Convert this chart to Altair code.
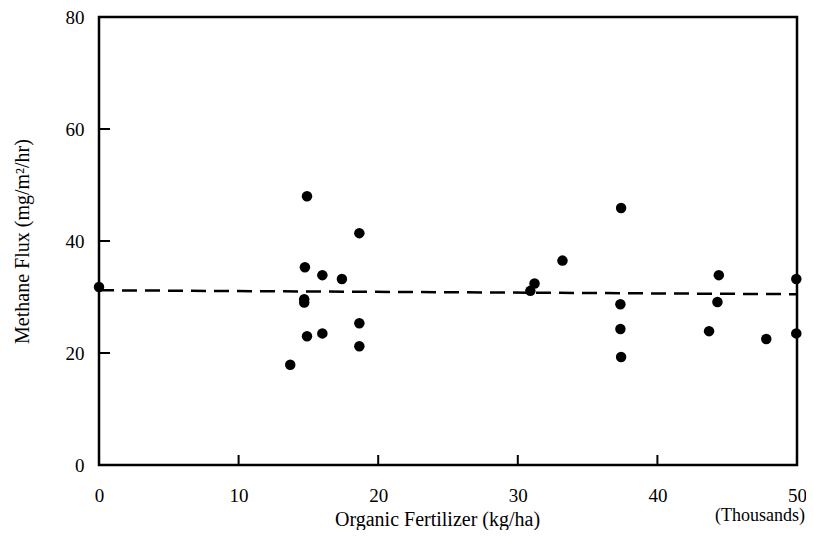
import altair as alt
import pandas as pd

# Scatter data (fertilizer in thousands kg/ha, methane flux mg/m2/hr)
fert = [0.0, 14.9, 18.65, 14.75, 16.0, 17.4, 14.7, 14.7, 18.65, 14.9, 16.0, 18.65, 13.7,
        31.2, 30.9, 33.2, 37.4, 37.35, 37.35, 37.4, 44.4, 44.3, 43.7, 47.8, 49.95, 49.95]
flux = [31.8, 48.0, 41.4, 35.3, 33.9, 33.2, 29.6, 29.0, 25.3, 23.0, 23.5, 21.2, 17.9,
        32.4, 31.1, 36.5, 45.9, 28.7, 24.3, 19.3, 33.9, 29.1, 23.9, 22.5, 33.2, 23.5]

# Fitted (dashed) line end points
line_x = [0, 50]
line_y = [31.2, 30.5]

x_ticks = [10, 20, 30, 40]
y_ticks = [20, 40, 60]

W, H = 698, 448
FONT = "Liberation Serif"

pts = pd.DataFrame({"fert": fert, "flux": flux})
ln = pd.DataFrame({"fert": line_x, "flux": line_y})
xt = pd.DataFrame({"tx": x_ticks})
yt = pd.DataFrame({"ty": y_ticks})
note = pd.DataFrame({"fert": [50], "label": ["(Thousands)"]})

xscale = alt.Scale(domain=[0, 50], nice=False, zero=False)
yscale = alt.Scale(domain=[0, 80], nice=False, zero=False)

xaxis = alt.Axis(values=[0, 10, 20, 30, 40, 50], format="d", ticks=False, tickSize=0,
                 domain=False, grid=False, labelPadding=21, labelFontSize=19,
                 labelFlush=False, labelOverlap=False,
                 labelFont=FONT, labelColor="black", title="Organic Fertilizer (kg/ha)",
                 titleFont=FONT, titleFontSize=20, titleFontWeight="normal",
                 titleColor="black", titleX=338, titleY=60, titleBaseline="alphabetic")
yaxis = alt.Axis(values=[0, 20, 40, 60, 80], format="d", ticks=False, tickSize=0,
                 domain=False, grid=False, labelPadding=15, labelFontSize=19,
                 labelFlush=False, labelOverlap=False,
                 labelFont=FONT, labelColor="black", title="Methane Flux (mg/m²/hr)",
                 titleFont=FONT, titleFontSize=20, titleFontWeight="normal",
                 titleColor="black", titlePadding=33)

points = alt.Chart(pts).mark_point(size=110, color="black", filled=True, opacity=1).encode(
    x=alt.X("fert:Q", scale=xscale, axis=xaxis),
    y=alt.Y("flux:Q", scale=yscale, axis=yaxis),
)

dashed = alt.Chart(ln).mark_line(color="black", strokeWidth=2.5, strokeDash=[15, 8]).encode(
    x=alt.X("fert:Q", scale=xscale),
    y=alt.Y("flux:Q", scale=yscale),
)

xtick = alt.Chart(xt).mark_rule(stroke="black", strokeWidth=2, opacity=1).encode(
    x=alt.X("tx:Q", scale=xscale),
    y=alt.value(H),
    y2=alt.value(H - 10),
)

ytick = alt.Chart(yt).mark_rule(stroke="black", strokeWidth=2, opacity=1).encode(
    y=alt.Y("ty:Q", scale=yscale),
    x=alt.value(0),
    x2=alt.value(11),
)

thous = alt.Chart(note).mark_text(font=FONT, fontSize=18, align="right",
                                  baseline="middle", color="black", dx=8).encode(
    x=alt.X("fert:Q", scale=xscale),
    y=alt.value(H + 51),
    text="label:N",
)

chart = alt.layer(dashed, points, xtick, ytick, thous).properties(
    width=W, height=H,
    autosize=alt.AutoSizeParams(type="none"),
    padding={"left": 91, "top": 9, "right": 9, "bottom": 65},
    background="white",
).configure_view(stroke="black", strokeWidth=2.5)

chart.save("out.html", embed_options={"renderer": "svg", "actions": False})
